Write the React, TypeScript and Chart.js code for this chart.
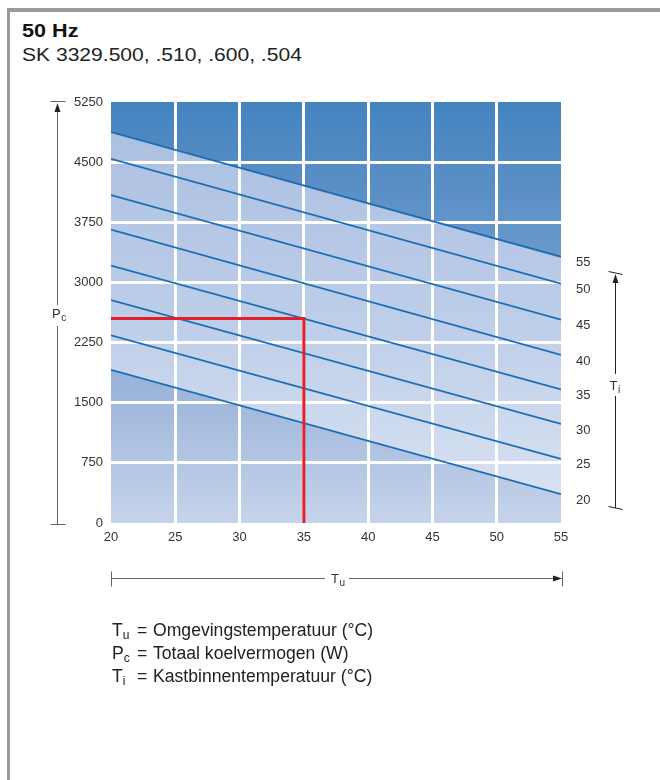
import React, { useEffect, useRef } from "react";
import { Chart, registerables } from "chart.js";

// ---- data ----
const tuMin = 20;
const tuMax = 55;
const tuStep = 5;
const pcMin = 0;
const pcMax = 5250;
const pcStep = 750;
const tiLabels = ["55", "50", "45", "40", "35", "30", "25", "20"];
// Pc (W) of each Ti line at Tu = 20 and Tu = 55
const pcAtTuMin = [4875, 4540, 4090, 3660, 3210, 2780, 2340, 1910];
const pcAtTuMax = [3320, 2985, 2535, 2095, 1665, 1235, 800, 360];
const markerTu = 35;
const markerPc = 2550;

const FONT = '"Liberation Sans", Arial, Helvetica, sans-serif';

const plotBg = {
  id: "plotBg",
  beforeDraw(chart: any) {
    const { ctx, chartArea } = chart;
    if (!chartArea) return;
    const { left, top, right, bottom } = chartArea;
    const g = ctx.createLinearGradient(0, top, 0, bottom);
    g.addColorStop(0, "#a9bee0");
    g.addColorStop(0.5, "#bccde8");
    g.addColorStop(1, "#dce4f3");
    ctx.save();
    ctx.fillStyle = g;
    ctx.fillRect(left, top, right - left, bottom - top);
    ctx.restore();
  },
};
Chart.register(plotBg);
Chart.register(...registerables);

function grad(stops: [number, string][], fallback: string) {
  return (c: any) => {
    const chart = c.chart;
    const area = chart.chartArea;
    if (!area) return fallback;
    const g = chart.ctx.createLinearGradient(0, area.top, 0, area.bottom);
    stops.forEach(([o, col]) => g.addColorStop(o, col));
    return g;
  };
}

const annotations = {
  id: "annotations",
  afterDraw(chart: any) {
    const { ctx, chartArea, scales } = chart;
    const { left, top, right, bottom } = chartArea;
    ctx.save();
    // right-hand Ti labels at line ends
    ctx.fillStyle = "#333";
    ctx.font = `13px ${FONT}`;
    ctx.textAlign = "left";
    ctx.textBaseline = "middle";
    tiLabels.forEach((t, i) => {
      const y = scales.y.getPixelForValue(pcAtTuMax[i]) + 6;
      ctx.fillText(t, right + 15, y);
    });

    const line = (x1: number, y1: number, x2: number, y2: number) => {
      ctx.beginPath();
      ctx.moveTo(x1, y1);
      ctx.lineTo(x2, y2);
      ctx.stroke();
    };
    const tri = (pts: number[][]) => {
      ctx.beginPath();
      ctx.moveTo(pts[0][0], pts[0][1]);
      ctx.lineTo(pts[1][0], pts[1][1]);
      ctx.lineTo(pts[2][0], pts[2][1]);
      ctx.closePath();
      ctx.fill();
    };
    const sym = (main: string, sub: string, x: number, base: number) => {
      ctx.textBaseline = "alphabetic";
      ctx.textAlign = "left";
      ctx.font = `13px ${FONT}`;
      ctx.fillText(main, x, base);
      const w = ctx.measureText(main).width;
      ctx.font = `10px ${FONT}`;
      ctx.fillText(sub, x + w + 0.5, base + 3);
    };

    // left Pc dimension
    const lx = left - 53.5;
    ctx.strokeStyle = "#666";
    ctx.fillStyle = "#222";
    ctx.lineWidth = 1;
    line(lx - 7, top - 0.5, lx + 8, top - 0.5);
    line(lx - 7, bottom + 1.5, lx + 8, bottom + 1.5);
    line(lx, top + 6, lx, top + 203);
    line(lx, top + 224, lx, bottom + 1.5);
    tri([[lx, top + 1], [lx - 3, top + 10], [lx + 3, top + 10]]);
    ctx.fillStyle = "#333";
    sym("P", "c", lx - 5.5, top + 216);

    // bottom Tu dimension
    const by = bottom + 55.5;
    ctx.strokeStyle = "#666";
    ctx.fillStyle = "#222";
    line(left, by, left + 214, by);
    line(left + 238, by, right, by);
    line(left + 0.5, by - 7, left + 0.5, by + 8);
    line(right + 1.5, by - 7, right + 1.5, by + 8);
    tri([[right + 1, by], [right - 8, by - 3], [right - 8, by + 3]]);
    ctx.fillStyle = "#333";
    sym("T", "u", left + 220, by + 4);

    // right Ti dimension
    const rx = right + 54.5;
    const rt = top + 171;
    const rb = bottom - 15;
    ctx.strokeStyle = "#222";
    ctx.fillStyle = "#222";
    line(rx - 7, rt - 1.5, rx + 7, rt + 1.5);
    line(rx - 7, rb - 1.5, rx + 7, rb + 1.5);
    line(rx, rt + 4, rx, rt + 101);
    line(rx, rt + 123, rx, rb);
    tri([[rx, rt + 1], [rx - 3, rt + 10], [rx + 3, rt + 10]]);
    ctx.fillStyle = "#333";
    sym("T", "i", rx - 6, rt + 117);

    ctx.restore();
  },
};

function ChartCanvas() {
  const ref = useRef<HTMLCanvasElement | null>(null);
  useEffect(() => {
    if (!ref.current) return;
    const last = tiLabels.length - 1;
    const blueSets = tiLabels.map((t, i) => ({
      label: `Ti ${t}`,
      data: [
        { x: tuMin, y: pcAtTuMin[i] },
        { x: tuMax, y: pcAtTuMax[i] },
      ],
      borderColor: "#1c6db4",
      borderWidth: 1.8,
      pointRadius: 0,
      tension: 0,
      order: 1,
      fill: i === 0 ? "end" : i === last ? "start" : false,
      backgroundColor:
        i === 0
          ? grad(
              [
                [0, "#4483bf"],
                [0.4, "#6f9bcc"],
                [1, "#8db0da"],
              ],
              "#5a8fc6"
            )
          : grad(
              [
                [0, "#7f9fce"],
                [0.62, "#95afd7"],
                [1, "#c6d4ea"],
              ],
              "#a5bce0"
            ),
    }));
    const chart = new Chart(ref.current, {
      type: "line",
      data: {
        datasets: [
          {
            label: "marker",
            data: [
              { x: tuMin, y: markerPc },
              { x: markerTu, y: markerPc },
              { x: markerTu, y: pcMin },
            ],
            borderColor: "#e3202a",
            borderWidth: 3,
            borderJoinStyle: "miter",
            pointRadius: 0,
            tension: 0,
            fill: false,
            order: 0,
          } as any,
          ...(blueSets as any[]),
        ],
      },
      options: {
        animation: false,
        responsive: false,
        maintainAspectRatio: false,
        events: [],
        layout: {
          autoPadding: false,
          padding: { left: 0, top: 102, right: 99, bottom: 227 },
        } as any,
        plugins: {
          legend: { display: false },
          tooltip: { enabled: false },
          filler: { drawTime: "beforeDraw" },
        } as any,
        scales: {
          x: {
            type: "linear",
            min: tuMin,
            max: tuMax,
            ticks: {
              stepSize: tuStep,
              color: "#333",
              font: { family: FONT, size: 13 },
              padding: 7,
              callback: (v: any) => String(v),
            },
            grid: {
              drawTicks: false,
              lineWidth: 3,
              color: (c: any) =>
                c.tick && (c.tick.value === tuMin || c.tick.value === tuMax)
                  ? "rgba(255,255,255,0)"
                  : "#ffffff",
            },
            border: { display: false },
            afterFit: (s: any) => {
              s.height = 30;
            },
          } as any,
          y: {
            type: "linear",
            min: pcMin,
            max: pcMax,
            ticks: {
              stepSize: pcStep,
              color: "#333",
              font: { family: FONT, size: 13 },
              padding: 8,
              callback: (v: any) => String(v),
            },
            grid: {
              drawTicks: false,
              lineWidth: 3,
              color: (c: any) =>
                c.tick && (c.tick.value === pcMin || c.tick.value === pcMax)
                  ? "rgba(255,255,255,0)"
                  : "#ffffff",
            },
            border: { display: false },
            afterFit: (s: any) => {
              s.width = 111;
            },
          } as any,
        },
      },
      plugins: [annotations],
    });
    return () => chart.destroy();
  }, []);
  return (
    <canvas
      ref={ref}
      width={660}
      height={780}
      style={{ position: "absolute", left: 0, top: 0, width: 660, height: 780 }}
    />
  );
}

export default function App() {
  const legendRow = (main: string, sub: string, text: string, top: number) => (
    <div
      style={{
        position: "absolute",
        left: 112,
        top,
        font: `17.6px ${FONT}`,
        lineHeight: "23px",
        color: "#222",
        whiteSpace: "nowrap",
      }}
    >
      <span style={{ display: "inline-block", width: 25 }}>
        {main}
        <span style={{ fontSize: 12, position: "relative", top: 3 }}>{sub}</span>
      </span>
      <span style={{ display: "inline-block", width: 16 }}>=</span>
      {text}
    </div>
  );
  return (
    <div
      style={{
        position: "absolute",
        left: 0,
        top: 0,
        width: 660,
        height: 780,
        background: "#fff",
        overflow: "hidden",
        fontFamily: FONT,
      }}
    >
      <div style={{ position: "absolute", left: 7, top: 8, width: 653, height: 4, background: "#9a9a9a" }} />
      <div style={{ position: "absolute", left: 7, top: 8, width: 3, height: 772, background: "#9a9a9a" }} />
      <div
        style={{
          position: "absolute",
          left: 22,
          top: 22,
          font: `bold 18px ${FONT}`,
          lineHeight: "18px",
          color: "#111",
          whiteSpace: "nowrap",
          transform: "scaleX(1.2)",
          transformOrigin: "left top",
        }}
      >
        50 Hz
      </div>
      <div
        style={{
          position: "absolute",
          left: 22,
          top: 46,
          font: `18px ${FONT}`,
          lineHeight: "18px",
          color: "#222",
          whiteSpace: "nowrap",
          transform: "scaleX(1.17)",
          transformOrigin: "left top",
        }}
      >
        SK 3329.500, .510, .600, .504
      </div>
      <ChartCanvas />
      {legendRow("T", "u", "Omgevingstemperatuur (°C)", 619)}
      {legendRow("P", "c", "Totaal koelvermogen (W)", 642)}
      {legendRow("T", "i", "Kastbinnentemperatuur (°C)", 665)}
    </div>
  );
}
